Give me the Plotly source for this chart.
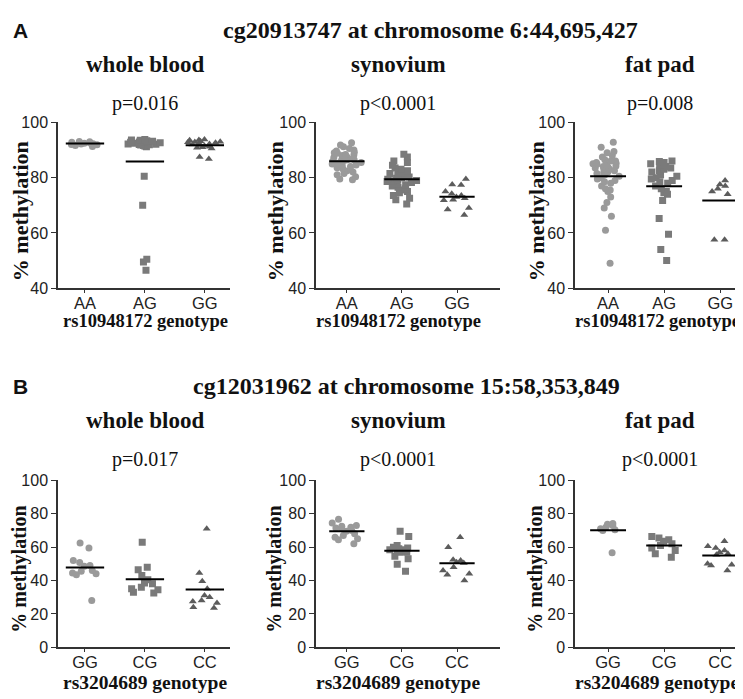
import numpy as np
import plotly.graph_objects as go

W, H = 743, 699

# ---------- datos ----------
row_titles = ["cg20913747 at chromosome 6:44,695,427", "cg12031962 at chromosome 15:58,353,849"]
tissues = ["whole blood", "synovium", "fat pad"]
genotipos_a = ["AA", "AG", "GG"]
genotipos_b = ["GG", "CG", "CC"]
snp_a = "rs10948172 genotype"
snp_b = "rs3204689 genotype"
pvals_a = ["p=0.016", "p<0.0001", "p=0.008"]
pvals_b = ["p=0.017", "p<0.0001", "p<0.0001"]

# fila A - cg20913747
blood_aa = [92.5, 92.0, 91.6, 92.8, 93.1, 92.3, 91.9, 92.6, 91.3, 92.4, 93.0, 92.2]
blood_ag = [93.8, 93.5, 93.2, 93.0, 92.8, 92.6, 92.4, 92.2, 92.0, 91.8, 91.6, 91.4, 91.2,
            93.6, 92.9, 92.1, 91.5, 93.3, 92.7, 91.9, 80.5, 70.0, 50.5, 49.5, 46.5]
blood_gg = [93.8, 93.5, 93.2, 93.0, 92.8, 92.6, 92.4, 92.2, 92.0, 91.8, 91.5, 91.2, 90.8,
            90.5, 91.6, 91.0, 93.6, 92.9, 87.5, 86.7]

syn_aa = [92.6, 91.8, 91.2, 90.5, 90.0, 89.6, 89.2, 88.8, 88.4, 88.0, 87.6, 87.3, 87.0,
          86.7, 86.4, 86.1, 85.8, 85.5, 85.2, 84.9, 84.6, 84.3, 84.0, 83.6, 83.2, 82.8,
          82.4, 82.0, 81.5, 81.0, 80.3, 79.5, 79.2, 86.5, 85.9, 88.2, 89.0]
syn_ag = [88.5, 87.5, 86.0, 85.5, 84.5, 83.5, 83.0, 82.5, 82.0, 81.5, 81.0, 80.6, 80.2,
          79.8, 79.4, 79.0, 78.6, 78.2, 77.8, 77.4, 77.0, 76.5, 76.0, 75.5, 75.0, 74.5,
          73.5, 72.5, 72.0, 70.5, 79.2, 78.9, 80.0, 81.8]
syn_gg = [79.5, 77.5, 77.3, 75.0, 74.2, 73.5, 73.0, 72.5, 72.0, 71.8, 69.0, 68.5, 66.5]

fat_aa = [92.8, 91.0, 89.5, 89.0, 88.0, 87.5, 86.5, 86.0, 85.5, 85.2, 85.0, 84.5, 84.2,
          84.0, 83.5, 83.2, 83.0, 82.5, 82.0, 81.8, 81.5, 81.0, 80.5, 80.0, 79.5, 79.0,
          78.5, 78.0, 77.0, 76.0, 75.5, 75.0, 73.0, 71.0, 69.0, 66.0, 61.0, 49.0,
          86.0, 84.8, 83.8]
fat_ag = [86.0, 85.8, 85.5, 85.0, 84.5, 84.0, 83.5, 83.0, 82.5, 82.0, 81.0, 80.5, 80.0,
          79.5, 79.0, 78.5, 78.0, 74.5, 77.0, 76.0, 75.0, 74.0, 71.7, 65.2, 59.5, 54.0, 50.0]
fat_gg = [79.0, 77.5, 77.0, 76.0, 75.0, 74.0, 57.5, 57.5]

# fila B - cg12031962
b_blood_gg = [62.5, 59.5, 52.0, 50.8, 49.0, 48.5, 46.0, 45.5, 44.5, 43.5, 44.0, 28.0]
b_blood_cg = [63.0, 48.0, 46.5, 43.0, 40.5, 38.5, 38.0, 36.0, 35.0, 34.5, 33.0, 32.5]
b_blood_cc = [71.0, 44.5, 39.5, 35.0, 31.0, 30.0, 28.0, 27.5, 26.5, 24.0, 23.5]

b_syn_gg = [76.8, 74.5, 73.0, 72.5, 72.0, 71.5, 71.0, 70.0, 69.5, 68.0, 67.0, 66.0, 65.0, 64.5, 62.0]
b_syn_cg = [69.5, 66.4, 61.0, 60.0, 59.5, 59.0, 58.5, 58.0, 57.5, 57.0, 58.5, 57.5, 57.0,
            54.5, 53.0, 49.8, 45.5]
b_syn_cc = [66.0, 60.0, 52.5, 52.0, 51.0, 50.5, 48.0, 46.0, 44.0, 43.5, 40.0]

b_fat_gg = [74.2, 73.8, 73.0, 72.0, 71.0, 70.5, 70.0, 56.6]
b_fat_cg = [66.4, 65.5, 64.5, 63.5, 62.0, 61.0, 59.5, 58.0, 56.0, 54.0]
b_fat_cc = [63.5, 60.5, 59.5, 58.0, 57.0, 56.0, 55.5, 50.0, 49.5, 49.0, 46.0]

panels = [
    [[blood_aa, blood_ag, blood_gg], [syn_aa, syn_ag, syn_gg], [fat_aa, fat_ag, fat_gg]],
    [[b_blood_gg, b_blood_cg, b_blood_cc], [b_syn_gg, b_syn_cg, b_syn_cc], [b_fat_gg, b_fat_cg, b_fat_cc]],
]

# ---------- estilo ----------
SERIF = "Liberation Serif"
SANS = "Liberation Sans"
simbolos = ["circle", "square", "triangle-up"]
colores = ["#9a9a9a", "#7a7a7a", "#5c5c5c"]
AXC = "#333333"

# posiciones en pixeles (x0, x1) de cada columna y (top, bottom) de cada fila
col_px = [(50, 222), (308, 492), (567, 738)]
col_rng = [(-0.45, 2.42), (-0.56, 2.78), (-0.59, 2.46)]
row_px = [(109, 279), (476, 647)]
row_rng = [(40, 100), (0, 100)]
col_centro = [137, 390, 652]
xtit_centro = [137, 390, 649]
ytit_x = [12, 267, 528]


def px(x):
    return x / W


def py(y):
    return 1 - y / H


fig = go.Figure()
annotations = []
layout_axes = {}

n = 0
for r in range(2):
    cats = genotipos_a if r == 0 else genotipos_b
    pv = pvals_a if r == 0 else pvals_b
    snp = snp_a if r == 0 else snp_b
    off = 0 if r == 0 else 365
    for c in range(3):
        n += 1
        sfx = "" if n == 1 else str(n)
        xa, ya = "x" + sfx, "y" + sfx
        for i, vals in enumerate(panels[r][c]):
            # puntos dispersos (box invisible con jitter)
            fig.add_trace(go.Box(
                y=vals, x0=i, xaxis=xa, yaxis=ya, width=0.6,
                boxpoints="all", jitter=1.0, pointpos=0,
                fillcolor="rgba(0,0,0,0)", line=dict(color="rgba(0,0,0,0)", width=0),
                marker=dict(symbol=simbolos[i], size=7, color=colores[i]),
                hoverinfo="skip", showlegend=False,
            ))
            # linea de la media
            m = float(np.mean(vals))
            fig.add_trace(go.Scatter(
                x=[i - 0.32, i + 0.32], y=[m, m], xaxis=xa, yaxis=ya, mode="lines",
                line=dict(color="black", width=2), hoverinfo="skip", showlegend=False,
            ))
        layout_axes["xaxis" + sfx] = dict(
            domain=[px(col_px[c][0]), px(col_px[c][1])], range=list(col_rng[c]),
            anchor=ya, tickvals=[0, 1, 2], ticktext=cats,
            showline=True, linecolor=AXC, linewidth=1.5, ticks="outside", ticklen=3,
            tickwidth=1.2, tickcolor=AXC, showgrid=False, zeroline=False,
            ticklabelstandoff=-4,
            tickfont=dict(family=SANS, size=16.5, color="#222"),
        )
        layout_axes["yaxis" + sfx] = dict(
            domain=[py(row_px[r][1]), py(row_px[r][0])], range=list(row_rng[r]),
            anchor=xa, dtick=20, showline=True, linecolor=AXC, linewidth=1.5,
            ticks="outside", ticklen=5, tickwidth=1.2, tickcolor=AXC,
            showgrid=False, zeroline=False,
            tickfont=dict(family=SANS, size=16, color="#222"),
        )
        # subtitulo, p-valor, titulos de ejes
        annotations.append(dict(text="<b>" + tissues[c] + "</b>", x=px(col_centro[c]), y=py(50 + off),
                                font=dict(family=SERIF, size=23, color="#111")))
        annotations.append(dict(text=pv[c], x=px(col_centro[c]), y=py(90 + off),
                                font=dict(family=SERIF, size=20, color="#111")))
        annotations.append(dict(text="<b>% methylation</b>", x=px(ytit_x[c]),
                                y=py((row_px[r][0] + row_px[r][1]) / 2 + 6), textangle=-90,
                                font=dict(family=SERIF, size=22 if r == 0 else 20, color="#111")))
        annotations.append(dict(text="<b>" + snp + "</b>", x=px(xtit_centro[c]), y=py(313 + (370 if r else 0)),
                                font=dict(family=SERIF, size=18.5 if r == 0 else 19.5, color="#111")))

# titulos de fila
annotations.append(dict(text="<b>A</b>", x=px(13), y=py(15), font=dict(family=SANS, size=21, color="#111")))
annotations.append(dict(text="<b>B</b>", x=px(13), y=py(380), font=dict(family=SANS, size=21, color="#111")))
annotations.append(dict(text="<b>" + row_titles[0] + "</b>", x=px(422), y=py(14),
                        font=dict(family=SERIF, size=24, color="#111")))
annotations.append(dict(text="<b>" + row_titles[1] + "</b>", x=px(398), y=py(379),
                        font=dict(family=SERIF, size=24, color="#111")))

for a in annotations:
    a.update(xref="paper", yref="paper", showarrow=False, xanchor="center", yanchor="middle")

fig.update_layout(
    width=W, height=H, margin=dict(l=0, r=0, t=0, b=0),
    paper_bgcolor="white", plot_bgcolor="white",
    annotations=annotations, boxmode="overlay", **layout_axes,
)

fig.write_html("out.html")
